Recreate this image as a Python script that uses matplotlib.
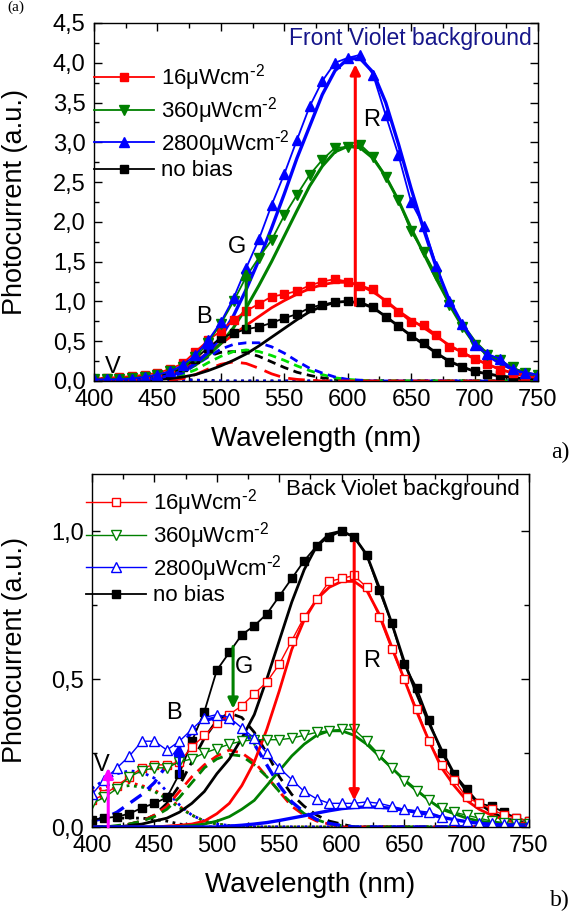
import numpy as np
import matplotlib
matplotlib.use("Agg")
import matplotlib.pyplot as plt
from matplotlib.ticker import MultipleLocator, FuncFormatter

plt.rcParams["font.family"] = ["Liberation Sans", "DejaVu Sans"]
plt.rcParams["mathtext.default"] = "regular"

# ── wavelength grid (nm) ──────────────────────────────────────────────────────
wavelength = np.arange(400, 760, 10)

LABELS = [r"16μWcm$^{\text{-}2}$", r"360μWcm$^{\text{-}2}$",
          r"2800μWcm$^{\text{-}2}$", "no bias"]

# ── (a) front violet background: measured spectra ────────────────────────────
front_16 = [0.03, 0.04, 0.05, 0.06, 0.08, 0.10, 0.15, 0.22, 0.37, 0.51, 0.63, 0.77,
            0.88, 0.97, 1.06, 1.09, 1.13, 1.20, 1.25, 1.28, 1.25, 1.20, 1.15, 0.99,
            0.87, 0.74, 0.70, 0.58, 0.43, 0.37, 0.28, 0.21, 0.14, 0.10, 0.05, 0.04]
front_360 = [0.02, 0.02, 0.03, 0.04, 0.05, 0.08, 0.12, 0.18, 0.30, 0.48, 0.72, 1.00,
             1.31, 1.55, 1.77, 2.08, 2.34, 2.59, 2.78, 2.93, 2.94, 2.97, 2.82, 2.57,
             2.28, 1.88, 1.62, 1.33, 0.95, 0.68, 0.45, 0.33, 0.26, 0.17, 0.10, 0.07]
front_2800 = [0.02, 0.02, 0.02, 0.03, 0.05, 0.08, 0.12, 0.20, 0.33, 0.51, 0.74, 1.04,
              1.42, 1.78, 2.21, 2.60, 3.03, 3.45, 3.77, 4.00, 4.06, 4.10, 3.85, 3.34,
              2.84, 2.25, 1.95, 1.45, 1.00, 0.72, 0.45, 0.34, 0.28, 0.15, 0.10, 0.08]
front_nobias = [0.02, 0.02, 0.03, 0.03, 0.05, 0.07, 0.10, 0.17, 0.28, 0.42, 0.54, 0.60,
                0.65, 0.68, 0.73, 0.79, 0.84, 0.92, 0.96, 0.99, 1.00, 0.99, 0.93, 0.81,
                0.69, 0.56, 0.48, 0.35, 0.24, 0.18, 0.12, 0.09, 0.07, 0.05, 0.03, 0.02]

# red (solid) components
front_red_16 = [0.02, 0.02, 0.03, 0.04, 0.05, 0.06, 0.09, 0.13, 0.24, 0.36, 0.47, 0.58,
                0.70, 0.81, 0.92, 1.01, 1.09, 1.16, 1.21, 1.24, 1.24, 1.20, 1.12, 1.01,
                0.88, 0.77, 0.67, 0.56, 0.45, 0.36, 0.28, 0.21, 0.15, 0.10, 0.07, 0.05]
front_red_360 = [0.00, 0.01, 0.01, 0.02, 0.03, 0.05, 0.08, 0.13, 0.20, 0.32, 0.47, 0.67,
                 0.92, 1.20, 1.50, 1.82, 2.14, 2.45, 2.70, 2.88, 2.95, 2.93, 2.80, 2.57,
                 2.27, 1.92, 1.60, 1.28, 0.98, 0.72, 0.50, 0.34, 0.23, 0.15, 0.10, 0.07]
front_red_2800 = [0.00, 0.00, 0.01, 0.01, 0.02, 0.04, 0.07, 0.12, 0.22, 0.36, 0.55, 0.82,
                  1.15, 1.52, 1.92, 2.35, 2.80, 3.20, 3.60, 3.90, 4.05, 4.05, 3.88, 3.50,
                  2.98, 2.42, 1.90, 1.42, 1.02, 0.72, 0.48, 0.33, 0.22, 0.15, 0.10, 0.07]
front_red_nobias = [0.00, 0.00, 0.00, 0.01, 0.01, 0.02, 0.03, 0.05, 0.08, 0.13, 0.19, 0.26,
                    0.34, 0.44, 0.55, 0.66, 0.77, 0.87, 0.94, 0.99, 1.00, 0.98, 0.92, 0.81,
                    0.69, 0.57, 0.46, 0.35, 0.25, 0.18, 0.12, 0.09, 0.06, 0.04, 0.03, 0.02]

# green (dashed) components
front_green_16 = [0, 0, 0, 0, 0, 0, 0.01, 0.03, 0.08, 0.15, 0.21, 0.24,
                  0.22, 0.16, 0.09, 0.04, 0.02, 0.01, 0, 0, 0, 0, 0, 0,
                  0, 0, 0, 0, 0, 0, 0, 0, 0, 0, 0, 0]
front_green_360 = [0, 0, 0, 0, 0.01, 0.02, 0.04, 0.08, 0.14, 0.23, 0.31, 0.37,
                   0.39, 0.37, 0.32, 0.26, 0.19, 0.13, 0.08, 0.04, 0.02, 0.01, 0, 0,
                   0, 0, 0, 0, 0, 0, 0, 0, 0, 0, 0, 0]
front_green_2800 = [0, 0, 0, 0.01, 0.01, 0.02, 0.05, 0.10, 0.20, 0.30, 0.40, 0.46,
                    0.48, 0.48, 0.43, 0.35, 0.25, 0.16, 0.10, 0.05, 0.02, 0.01, 0, 0,
                    0, 0, 0, 0, 0, 0, 0, 0, 0, 0, 0, 0]
front_green_nobias = [0, 0, 0, 0.01, 0.02, 0.04, 0.09, 0.16, 0.24, 0.31, 0.36, 0.37,
                      0.36, 0.31, 0.24, 0.17, 0.11, 0.07, 0.04, 0.02, 0.01, 0, 0, 0,
                      0, 0, 0, 0, 0, 0, 0, 0, 0, 0, 0, 0]

# violet (dotted) components
front_violet_2800 = [0.02, 0.02, 0.02, 0.02, 0.02, 0.02, 0.01, 0.01, 0.01, 0, 0, 0,
                     0, 0, 0, 0, 0, 0, 0, 0, 0, 0, 0, 0,
                     0, 0, 0, 0, 0, 0, 0, 0, 0, 0, 0, 0]
front_violet_nobias = [0.03, 0.03, 0.03, 0.03, 0.03, 0.03, 0.02, 0.02, 0.01, 0.01, 0, 0,
                       0, 0, 0, 0, 0, 0, 0, 0, 0, 0, 0, 0,
                       0, 0, 0, 0, 0, 0, 0, 0, 0, 0, 0, 0]

# ── (b) back violet background: measured spectra ────────────────────────────
back_16 = [0.09, 0.11, 0.14, 0.17, 0.20, 0.21, 0.21, 0.22, 0.27, 0.31, 0.35, 0.38,
           0.41, 0.45, 0.49, 0.55, 0.63, 0.71, 0.77, 0.83, 0.84, 0.85, 0.81, 0.71,
           0.60, 0.50, 0.40, 0.29, 0.21, 0.16, 0.10, 0.08, 0.06, 0.04, 0.03, 0.02]
back_360 = [0.08, 0.10, 0.13, 0.17, 0.19, 0.20, 0.20, 0.22, 0.23, 0.25, 0.265, 0.28,
            0.29, 0.295, 0.295, 0.295, 0.30, 0.31, 0.32, 0.325, 0.33, 0.33, 0.29, 0.245,
            0.20, 0.155, 0.12, 0.09, 0.065, 0.05, 0.04, 0.03, 0.02, 0.015, 0.01, 0.01]
back_2800 = [0.11, 0.16, 0.20, 0.24, 0.29, 0.29, 0.26, 0.29, 0.33, 0.37, 0.38, 0.37,
             0.335, 0.30, 0.25, 0.20, 0.16, 0.12, 0.095, 0.08, 0.08, 0.08, 0.085, 0.08,
             0.07, 0.06, 0.055, 0.05, 0.035, 0.025, 0.02, 0.015, 0.012, 0.01, 0.01, 0.01]
back_nobias = [0.025, 0.03, 0.035, 0.045, 0.065, 0.08, 0.10, 0.18, 0.29, 0.39, 0.53, 0.59,
               0.65, 0.68, 0.72, 0.78, 0.84, 0.90, 0.95, 0.98, 1.00, 0.98, 0.92, 0.80,
               0.69, 0.55, 0.47, 0.36, 0.25, 0.18, 0.13, 0.08, 0.07, 0.05, 0.03, 0.02]

back_red_16 = [0, 0, 0, 0, 0, 0, 0.003, 0.006, 0.01, 0.02, 0.045, 0.08,
               0.14, 0.22, 0.33, 0.46, 0.60, 0.70, 0.77, 0.81, 0.83, 0.83, 0.80, 0.72,
               0.61, 0.50, 0.39, 0.29, 0.20, 0.14, 0.09, 0.06, 0.04, 0.025, 0.015, 0.01]
back_red_360 = [0, 0, 0, 0, 0, 0, 0, 0.002, 0.005, 0.01, 0.02, 0.035,
                0.06, 0.09, 0.14, 0.19, 0.24, 0.28, 0.31, 0.325, 0.325, 0.31, 0.28, 0.24,
                0.20, 0.16, 0.125, 0.09, 0.06, 0.045, 0.03, 0.02, 0.015, 0.01, 0.005, 0.005]
back_red_2800 = [0, 0, 0, 0, 0, 0, 0, 0, 0, 0, 0, 0.003,
                 0.006, 0.01, 0.015, 0.022, 0.03, 0.038, 0.047, 0.055, 0.062, 0.066, 0.068, 0.067,
                 0.063, 0.057, 0.05, 0.042, 0.033, 0.025, 0.018, 0.012, 0.008, 0.005, 0.003, 0.002]
back_red_nobias = [0, 0, 0, 0.005, 0.01, 0.02, 0.03, 0.05, 0.08, 0.12, 0.18, 0.23,
                   0.30, 0.38, 0.50, 0.63, 0.76, 0.87, 0.95, 0.99, 1.00, 0.98, 0.92, 0.81,
                   0.69, 0.56, 0.45, 0.35, 0.26, 0.18, 0.12, 0.08, 0.05, 0.03, 0.02, 0.01]

back_green_16 = [0, 0, 0, 0.01, 0.02, 0.04, 0.07, 0.12, 0.17, 0.21, 0.24, 0.26,
                 0.25, 0.22, 0.17, 0.12, 0.07, 0.04, 0.02, 0.01, 0, 0, 0, 0,
                 0, 0, 0, 0, 0, 0, 0, 0, 0, 0, 0, 0]
back_green_360 = [0, 0, 0.005, 0.01, 0.02, 0.035, 0.06, 0.10, 0.15, 0.20, 0.23, 0.245,
                  0.24, 0.21, 0.17, 0.12, 0.08, 0.045, 0.025, 0.01, 0.005, 0, 0, 0,
                  0, 0, 0, 0, 0, 0, 0, 0, 0, 0, 0, 0]
back_green_2800 = [0.02, 0.03, 0.05, 0.08, 0.11, 0.15, 0.21, 0.27, 0.32, 0.36, 0.37, 0.36,
                   0.33, 0.28, 0.21, 0.14, 0.085, 0.05, 0.025, 0.012, 0.005, 0, 0, 0,
                   0, 0, 0, 0, 0, 0, 0, 0, 0, 0, 0, 0]
back_green_nobias = [0, 0, 0, 0.01, 0.02, 0.04, 0.08, 0.14, 0.22, 0.30, 0.36, 0.385,
                     0.37, 0.32, 0.25, 0.17, 0.11, 0.07, 0.04, 0.02, 0.01, 0, 0, 0,
                     0, 0, 0, 0, 0, 0, 0, 0, 0, 0, 0, 0]

back_violet_16 = [0.12, 0.135, 0.145, 0.15, 0.14, 0.125, 0.10, 0.07, 0.04, 0.02, 0.01, 0.005,
                  0, 0, 0, 0, 0, 0, 0, 0, 0, 0, 0, 0,
                  0, 0, 0, 0, 0, 0, 0, 0, 0, 0, 0, 0]
back_violet_360 = [0.10, 0.12, 0.135, 0.14, 0.135, 0.12, 0.095, 0.065, 0.04, 0.02, 0.01, 0.005,
                   0, 0, 0, 0, 0, 0, 0, 0, 0, 0, 0, 0,
                   0, 0, 0, 0, 0, 0, 0, 0, 0, 0, 0, 0]
back_violet_2800 = [0.13, 0.16, 0.18, 0.19, 0.185, 0.165, 0.12, 0.075, 0.04, 0.02, 0.01, 0.005,
                    0, 0, 0, 0, 0, 0, 0, 0, 0, 0, 0, 0,
                    0, 0, 0, 0, 0, 0, 0, 0, 0, 0, 0, 0]
back_violet_nobias = [0.025, 0.03, 0.03, 0.03, 0.03, 0.025, 0.02, 0.01, 0.005, 0, 0, 0,
                      0, 0, 0, 0, 0, 0, 0, 0, 0, 0, 0, 0,
                      0, 0, 0, 0, 0, 0, 0, 0, 0, 0, 0, 0]

# arrows: (wavelength, from, to, colour) and their letters: (text, wavelength, value)
front_arrows = [(606, 0.95, 3.98, "#ff0000"), (520, 0.65, 1.42, "#008000"),
                (490, 0.36, 0.56, "#0000ff")]
front_tags = [("R", 619, 3.28), ("G", 513, 1.69), ("B", 487, 0.80), ("V", 415, 0.18)]
back_arrows = [(610, 0.96, 0.09, "#ff0000"), (513, 0.61, 0.40, "#008000"),
               (470, 0.17, 0.28, "#0000ff"), (413, 0.0, 0.20, "#ff00ff")]
back_tags = [("R", 624, 0.56), ("G", 522, 0.54), ("B", 466, 0.385), ("V", 408, 0.21)]

RED, GREEN, BLUE, BLACK = "#ff0000", "#008000", "#0000ff", "#000000"
LIME = "#00e000"

comma = FuncFormatter(lambda v, _: f"{v:.1f}".replace(".", ","))


def style_axes(ax, ymax, ystep):
    ax.set_xlim(400, 750)
    ax.set_ylim(0, ymax)
    ax.xaxis.set_major_locator(MultipleLocator(50))
    ax.xaxis.set_minor_locator(MultipleLocator(25))
    ax.yaxis.set_major_locator(MultipleLocator(ystep))
    ax.yaxis.set_minor_locator(MultipleLocator(ystep / 2))
    ax.yaxis.set_major_formatter(comma)
    ax.tick_params(which="both", direction="in", top=True, right=True, width=1)
    ax.tick_params(which="major", length=6, labelsize=17, pad=6)
    ax.tick_params(which="minor", length=3.5)
    for s in ax.spines.values():
        s.set_linewidth(1)
    ax.set_xlabel("Wavelength (nm)", fontsize=20)
    ax.set_ylabel("Photocurrent (a.u.)", fontsize=19.5)


def draw_arrows(ax, arrows, tags):
    for x, y0, y1, c in arrows:
        ax.annotate("", xy=(x, y1), xytext=(x, y0),
                    arrowprops=dict(arrowstyle="-|>", color=c, lw=2.2,
                                    mutation_scale=15, shrinkA=0, shrinkB=0))
    for t, x, y in tags:
        ax.text(x, y, t, fontsize=17, ha="center", va="center")


fig = plt.figure(figsize=(5.79, 9.11), dpi=100)
ax_a = fig.add_axes([0.1623, 0.5818, 0.7668, 0.3930])
ax_b = fig.add_axes([0.1589, 0.0922, 0.7547, 0.3875])

# ── panel (a) ─────────────────────────────────────────────────────────────────
ax = ax_a
ax.plot(wavelength, front_violet_nobias, ":", color=BLACK, lw=2)
ax.plot(wavelength, front_violet_2800, ":", color=BLUE, lw=2)
ax.plot(wavelength, front_green_nobias, "--", color=BLACK, lw=2, dashes=(3, 2))
ax.plot(wavelength, front_green_360, "--", color=LIME, lw=2, dashes=(3, 2))
ax.plot(wavelength, front_green_2800, "--", color=BLUE, lw=2, dashes=(3, 2))
ax.plot(wavelength, front_green_16, "--", color=RED, lw=2, dashes=(6, 3))
ax.plot(wavelength, front_red_nobias, "-", color=BLACK, lw=2)
ax.plot(wavelength, front_red_16, "-", color=RED, lw=2)
ax.plot(wavelength, front_red_360, "-", color=GREEN, lw=2.2)
ax.plot(wavelength, front_red_2800, "-", color=BLUE, lw=2.4)
h_nb, = ax.plot(wavelength, front_nobias, "-s", color=BLACK, lw=1.3, ms=5.5)
h_16, = ax.plot(wavelength, front_16, "-s", color=RED, lw=1.3, ms=5.5)
h_360, = ax.plot(wavelength, front_360, "-v", color=GREEN, lw=1.3, ms=6.5)
h_2800, = ax.plot(wavelength, front_2800, "-^", color=BLUE, lw=1.3, ms=6.5)
draw_arrows(ax, front_arrows, front_tags)
style_axes(ax, 4.5, 0.5)
ax.yaxis.set_label_coords(-0.148, 0.5)
ax.xaxis.set_label_coords(0.5, -0.125)
ax.text(0.986, 0.988, "Front Violet background", transform=ax.transAxes,
        ha="right", va="top", fontsize=16.5, color="#16168a")
ax.legend([h_16, h_360, h_2800, h_nb], LABELS, loc="upper left",
          bbox_to_anchor=(0.0, 0.89), frameon=False, fontsize=16,
          borderaxespad=0, borderpad=0, handlelength=2.7, handletextpad=0.3,
          labelspacing=0.08)

# ── panel (b) ─────────────────────────────────────────────────────────────────
ax = ax_b
ax.plot(wavelength, back_violet_nobias, ":", color=BLACK, lw=2)
ax.plot(wavelength, back_violet_16, ":", color=RED, lw=2)
ax.plot(wavelength, back_violet_360, ":", color=GREEN, lw=2)
ax.plot(wavelength, back_violet_2800, ":", color=BLUE, lw=2)
ax.plot(wavelength, back_green_nobias, "--", color=BLACK, lw=2, dashes=(4, 2.5))
ax.plot(wavelength, back_green_16, "--", color=RED, lw=2, dashes=(4, 2.5))
ax.plot(wavelength, back_green_360, "--", color=GREEN, lw=2, dashes=(4, 2.5))
ax.plot(wavelength, back_green_2800, "--", color=BLUE, lw=2.4, dashes=(4, 2.5))
ax.plot(wavelength, back_red_nobias, "-", color=BLACK, lw=2)
ax.plot(wavelength, back_red_16, "-", color=RED, lw=2)
ax.plot(wavelength, back_red_360, "-", color=GREEN, lw=2)
ax.plot(wavelength, back_red_2800, "-", color=BLUE, lw=2.4)
h_nb, = ax.plot(wavelength, back_nobias, "-s", color=BLACK, lw=1.3, ms=5.5)
h_16, = ax.plot(wavelength, back_16, "-s", color=RED, lw=1, ms=6, mfc="white")
h_360, = ax.plot(wavelength, back_360, "-v", color=GREEN, lw=1, ms=7, mfc="white")
h_2800, = ax.plot(wavelength, back_2800, "-^", color=BLUE, lw=1, ms=7, mfc="white")
draw_arrows(ax, back_arrows, back_tags)
style_axes(ax, 1.193, 0.5)
ax.yaxis.set_label_coords(-0.146, 0.5)
ax.xaxis.set_label_coords(0.5, -0.128)
ax.text(0.979, 0.985, "Back Violet background", transform=ax.transAxes,
        ha="right", va="top", fontsize=16)
ax.legend([h_16, h_360, h_2800, h_nb], LABELS, loc="upper left",
          bbox_to_anchor=(-0.014, 0.962), frameon=False, fontsize=16,
          borderaxespad=0, borderpad=0, handlelength=2.7, handletextpad=0.3,
          labelspacing=0.08)

fig.text(0.967, 0.503, "a)", fontsize=17, family="Liberation Serif",
         ha="center", va="center")
fig.text(0.967, 0.012, "b)", fontsize=17, family="Liberation Serif",
         ha="center", va="center")
fig.text(0.012, 0.999, "(a)", fontsize=11, family="Liberation Serif",
         ha="left", va="top")

fig.savefig("out.png", dpi=100)
